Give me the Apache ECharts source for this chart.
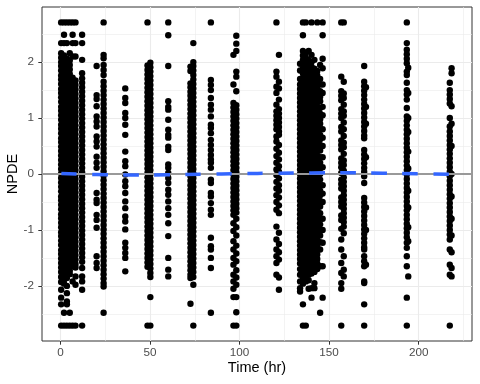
<!DOCTYPE html>
<html>
<head>
<meta charset="utf-8">
<script src="https://cdn.jsdelivr.net/npm/echarts@6/dist/echarts.min.js"></script>
<style>
  html, body { margin: 0; padding: 0; background: #fff; }
  #chart { width: 480px; height: 384px; }
</style>
</head>
<body>
<div id="chart"></div>
<script>
// NPDE per sampling time, one array per visible column of points (time in hr)
const y_t0_4 = [2.71, 2.34, 2.16, 2.08, 2.0, 1.93, 1.85, 1.76, 1.69, 1.61, 1.52, 1.45, 1.37, 1.29, 1.2, 1.13, 1.05, 0.97, 0.88, 0.81, 0.73, 0.64, 0.57, 0.49, 0.41, 0.33, 0.25, 0.17, 0.09, 0.01, -0.07, -0.15, -0.23, -0.31, -0.4, -0.47, -0.55, -0.63, -0.72, -0.79, -0.87, -0.95, -1.04, -1.11, -1.19, -1.27, -1.36, -1.43, -1.51, -1.59, -1.67, -1.75, -1.84, -1.93, -2.07, -2.21, -2.33, -2.71];
const y_t2_0 = [2.71, 2.49, 2.34, 2.12, 2.04, 1.97, 1.88, 1.81, 1.72, 1.65, 1.56, 1.49, 1.41, 1.32, 1.25, 1.16, 1.09, 1.01, 0.92, 0.85, 0.76, 0.69, 0.6, 0.53, 0.44, 0.37, 0.28, 0.21, 0.12, 0.05, -0.03, -0.11, -0.19, -0.27, -0.35, -0.43, -0.51, -0.59, -0.68, -0.75, -0.83, -0.91, -0.99, -1.07, -1.15, -1.23, -1.31, -1.39, -1.48, -1.55, -1.63, -1.71, -1.8, -1.89, -1.96, -2.48, -2.71];
const y_t3_6 = [2.71, 2.34, 2.06, 1.98, 1.9, 1.83, 1.74, 1.67, 1.58, 1.51, 1.42, 1.35, 1.27, 1.18, 1.11, 1.02, 0.95, 0.86, 0.79, 0.71, 0.62, 0.55, 0.46, 0.39, 0.3, 0.23, 0.14, 0.07, -0.01, -0.09, -0.17, -0.25, -0.33, -0.41, -0.49, -0.57, -0.65, -0.73, -0.81, -0.89, -0.97, -1.05, -1.13, -1.21, -1.29, -1.37, -1.45, -1.53, -1.61, -1.69, -1.77, -1.86, -2.0, -2.13, -2.28, -2.33, -2.71];
const y_t5_2 = [2.71, 2.16, 2.03, 1.95, 1.87, 1.79, 1.71, 1.63, 1.55, 1.47, 1.39, 1.31, 1.23, 1.15, 1.07, 0.99, 0.91, 0.83, 0.75, 0.67, 0.59, 0.51, 0.43, 0.35, 0.27, 0.19, 0.11, 0.03, -0.05, -0.13, -0.21, -0.29, -0.37, -0.45, -0.53, -0.61, -0.69, -0.77, -0.85, -0.93, -1.01, -1.09, -1.17, -1.25, -1.33, -1.41, -1.49, -1.57, -1.65, -1.73, -1.79, -2.48, -2.71];
const y_t6_8 = [2.71, 2.49, 2.34, 2.1, 1.72, 1.64, 1.57, 1.48, 1.41, 1.32, 1.25, 1.16, 1.09, 1.0, 0.93, 0.84, 0.77, 0.68, 0.61, 0.52, 0.45, 0.36, 0.29, 0.2, 0.13, 0.04, -0.04, -0.12, -0.2, -0.28, -0.36, -0.44, -0.52, -0.6, -0.68, -0.76, -0.84, -0.92, -1.0, -1.08, -1.16, -1.24, -1.32, -1.4, -1.48, -1.57, -1.65, -1.92, -2.71];
const y_t8_4 = [2.71, 2.34, 2.1, 1.67, 1.59, 1.51, 1.43, 1.35, 1.27, 1.19, 1.11, 1.03, 0.95, 0.87, 0.79, 0.71, 0.63, 0.55, 0.47, 0.39, 0.31, 0.23, 0.15, 0.07, -0.01, -0.09, -0.17, -0.25, -0.33, -0.41, -0.49, -0.57, -0.65, -0.73, -0.81, -0.89, -0.97, -1.05, -1.13, -1.21, -1.29, -1.37, -1.45, -1.53, -1.61, -1.67, -1.83, -1.98, -2.71];
const y_t12 = [2.49, 2.34, 2.04, 1.8, 1.71, 1.63, 1.55, 1.47, 1.39, 1.31, 1.23, 1.15, 1.07, 0.99, 0.91, 0.83, 0.75, 0.67, 0.59, 0.51, 0.43, 0.35, 0.27, 0.19, 0.11, 0.03, -0.05, -0.13, -0.21, -0.29, -0.37, -0.45, -0.53, -0.61, -0.69, -0.77, -0.85, -0.93, -1.01, -1.09, -1.17, -1.25, -1.33, -1.41, -1.49, -1.57, -1.68, -1.83, -1.92, -2.07, -2.71];
const y_t20 = [1.93, 1.41, 1.34, 1.21, 1.03, 0.94, 0.85, 0.67, 0.58, 0.49, 0.31, 0.2, 0.11, -0.34, -0.46, -0.52, -0.73, -0.82, -0.96, -1.47, -1.59, -1.68];
const y_t24 = [2.71, 2.13, 2.07, 1.95, 1.86, 1.77, 1.65, 1.57, 1.49, 1.41, 1.33, 1.25, 1.17, 1.09, 1.01, 0.93, 0.85, 0.77, 0.69, 0.61, 0.53, 0.45, 0.37, 0.29, 0.21, 0.13, 0.05, -0.03, -0.11, -0.19, -0.27, -0.35, -0.43, -0.51, -0.59, -0.67, -0.75, -0.83, -0.91, -0.99, -1.07, -1.15, -1.23, -1.31, -1.39, -1.47, -1.55, -1.63, -1.71, -1.79, -1.87, -1.95, -2.01, -2.48];
const y_t36 = [1.53, 1.36, 1.27, 1.09, 1.0, 0.88, 0.7, 0.4, 0.23, 0.14, -0.01, -0.13, -0.22, -0.34, -0.49, -0.61, -0.76, -0.85, -0.99, -1.23, -1.32, -1.41, -1.5, -1.74];
const y_t48_6 = [2.71, 1.94, 1.86, 1.78, 1.7, 1.62, 1.54, 1.46, 1.38, 1.3, 1.22, 1.14, 1.06, 0.98, 0.9, 0.82, 0.74, 0.66, 0.58, 0.5, 0.42, 0.34, 0.26, 0.18, 0.1, 0.02, -0.06, -0.14, -0.22, -0.3, -0.38, -0.46, -0.54, -0.62, -0.7, -0.78, -0.86, -0.94, -1.02, -1.1, -1.18, -1.26, -1.34, -1.42, -1.5, -1.58, -1.66, -2.71];
const y_t50_2 = [1.99, 1.91, 1.83, 1.75, 1.67, 1.59, 1.51, 1.43, 1.35, 1.27, 1.19, 1.11, 1.03, 0.95, 0.87, 0.79, 0.71, 0.63, 0.55, 0.47, 0.39, 0.31, 0.23, 0.15, 0.07, -0.01, -0.09, -0.17, -0.25, -0.33, -0.41, -0.49, -0.57, -0.65, -0.73, -0.81, -0.89, -0.97, -1.05, -1.13, -1.21, -1.29, -1.37, -1.45, -1.53, -1.61, -1.69, -1.77, -1.84, -2.2, -2.71];
const y_t60 = [2.71, 2.48, 1.93, 1.3, 1.2, 1.15, 0.97, 0.79, 0.7, 0.65, 0.49, 0.43, 0.17, 0.11, 0.02, -0.07, -0.16, -0.28, -0.37, -0.49, -0.61, -0.73, -0.88, -1.11, -1.5, -1.71, -1.83];
const y_t72_6 = [1.92, 1.84, 1.62, 1.55, 1.47, 1.4, 1.32, 1.24, 1.16, 1.08, 1.0, 0.92, 0.84, 0.76, 0.68, 0.6, 0.52, 0.44, 0.36, 0.28, 0.2, 0.12, 0.04, -0.04, -0.12, -0.2, -0.28, -0.36, -0.44, -0.52, -0.6, -0.68, -0.76, -0.84, -0.92, -1.0, -1.08, -1.16, -1.24, -1.32, -1.4, -1.48, -1.56, -1.64, -1.72, -1.8, -1.86, -2.32];
const y_t74_2 = [2.34, 2.0, 1.93, 1.85, 1.77, 1.69, 1.61, 1.53, 1.45, 1.37, 1.29, 1.21, 1.13, 1.05, 0.97, 0.89, 0.81, 0.73, 0.65, 0.57, 0.49, 0.41, 0.33, 0.25, 0.17, 0.09, 0.01, -0.07, -0.15, -0.23, -0.31, -0.39, -0.47, -0.55, -0.63, -0.71, -0.79, -0.87, -0.95, -1.03, -1.11, -1.19, -1.27, -1.35, -1.43, -1.51, -1.59, -1.67, -1.75, -1.84, -1.98, -2.71];
const y_t84 = [2.71, 1.68, 1.59, 1.5, 1.36, 1.24, 1.15, 1.03, 0.88, 0.82, 0.73, 0.61, 0.52, 0.43, 0.34, 0.26, 0.2, 0.11, -0.1, -0.16, -0.34, -0.4, -0.52, -0.64, -0.73, -1.14, -1.29, -1.35, -1.5, -1.68, -2.48];
const y_t96_6 = [2.13, 1.6, 1.27, 1.19, 1.11, 1.03, 0.95, 0.87, 0.79, 0.71, 0.63, 0.55, 0.47, 0.39, 0.31, 0.23, 0.15, 0.07, -0.01, -0.09, -0.17, -0.25, -0.33, -0.41, -0.49, -0.57, -0.65, -0.73, -0.88, -1.02, -1.2, -1.35, -1.5, -1.62, -1.8, -1.92, -2.05, -2.2, -2.71];
const y_t98_2 = [2.47, 2.33, 2.2, 1.83, 1.74, 1.48, 1.23, 1.15, 1.07, 0.99, 0.91, 0.83, 0.75, 0.67, 0.59, 0.51, 0.43, 0.35, 0.27, 0.19, 0.11, 0.03, -0.05, -0.13, -0.21, -0.29, -0.37, -0.45, -0.53, -0.61, -0.69, -0.8, -0.95, -1.1, -1.28, -1.42, -1.56, -1.72, -1.85, -1.98, -2.2, -2.47, -2.71];
const y_t120_6 = [2.71, 1.83, 1.74, 1.56, 1.45, 1.24, 1.12, 1.04, 0.96, 0.88, 0.8, 0.67, 0.58, 0.45, 0.32, 0.2, 0.08, -0.02, -0.14, -0.26, -0.38, -0.5, -0.64, -0.94, -1.17, -1.35, -1.47, -1.59, -1.8];
const y_t122 = [2.13, 1.65, 1.53, 1.33, 1.16, 1.08, 1.0, 0.92, 0.84, 0.76, 0.7, 0.52, 0.38, 0.26, 0.14, 0.04, -0.08, -0.2, -0.3, -0.42, -0.56, -0.7, -1.05, -1.25, -1.4, -1.53, -1.85, -2.07];
const y_t133_8 = [1.97, 1.85, 1.7, 1.6, 1.52, 1.44, 1.36, 1.28, 1.2, 1.12, 1.04, 0.96, 0.88, 0.8, 0.72, 0.64, 0.56, 0.48, 0.4, 0.32, 0.24, 0.16, 0.08, 0.0, -0.08, -0.16, -0.24, -0.32, -0.4, -0.48, -0.56, -0.64, -0.72, -0.8, -0.88, -0.96, -1.04, -1.12, -1.2, -1.28, -1.36, -1.44, -1.52, -1.6, -1.7, -1.8, -1.92, -2.04, -2.1];
const y_t135_4 = [2.71, 2.48, 2.2, 2.12, 2.04, 1.96, 1.88, 1.8, 1.72, 1.64, 1.56, 1.48, 1.4, 1.32, 1.24, 1.16, 1.08, 1.0, 0.92, 0.84, 0.76, 0.68, 0.6, 0.52, 0.44, 0.36, 0.28, 0.2, 0.12, 0.04, -0.04, -0.12, -0.2, -0.28, -0.36, -0.44, -0.52, -0.6, -0.68, -0.76, -0.84, -0.92, -1.0, -1.08, -1.16, -1.24, -1.32, -1.4, -1.48, -1.56, -1.64, -1.72, -1.8, -1.88, -1.96, -2.33, -2.71];
const y_t137 = [2.71, 2.16, 2.08, 2.0, 1.92, 1.84, 1.76, 1.68, 1.6, 1.52, 1.44, 1.36, 1.28, 1.2, 1.12, 1.04, 0.96, 0.88, 0.8, 0.72, 0.64, 0.56, 0.48, 0.4, 0.32, 0.24, 0.16, 0.08, 0.0, -0.08, -0.16, -0.24, -0.32, -0.4, -0.48, -0.56, -0.64, -0.72, -0.8, -0.88, -0.96, -1.04, -1.12, -1.2, -1.28, -1.36, -1.44, -1.52, -1.6, -1.68, -1.76, -1.84, -1.92, -2.71];
const y_t138_6 = [2.2, 2.04, 1.96, 1.88, 1.8, 1.72, 1.64, 1.56, 1.48, 1.4, 1.32, 1.24, 1.16, 1.08, 1.0, 0.92, 0.84, 0.76, 0.68, 0.6, 0.52, 0.44, 0.36, 0.28, 0.2, 0.12, 0.04, -0.04, -0.12, -0.2, -0.28, -0.36, -0.44, -0.52, -0.6, -0.68, -0.76, -0.84, -0.92, -1.0, -1.08, -1.16, -1.24, -1.32, -1.4, -1.48, -1.56, -1.64, -1.72, -1.8, -1.9, -2.05];
const y_t140_2 = [2.71, 2.13, 2.0, 1.92, 1.84, 1.76, 1.68, 1.6, 1.52, 1.44, 1.36, 1.28, 1.2, 1.12, 1.04, 0.96, 0.88, 0.8, 0.72, 0.64, 0.56, 0.48, 0.4, 0.32, 0.24, 0.16, 0.08, 0.0, -0.08, -0.16, -0.24, -0.32, -0.4, -0.48, -0.56, -0.64, -0.72, -0.8, -0.88, -0.96, -1.04, -1.12, -1.2, -1.28, -1.36, -1.44, -1.52, -1.6, -1.68, -1.78, -2.04, -2.21];
const y_t141_8 = [2.04, 1.88, 1.8, 1.72, 1.64, 1.56, 1.48, 1.4, 1.32, 1.24, 1.16, 1.08, 1.0, 0.92, 0.84, 0.76, 0.68, 0.6, 0.52, 0.44, 0.36, 0.28, 0.2, 0.12, 0.04, -0.04, -0.12, -0.2, -0.28, -0.36, -0.44, -0.52, -0.6, -0.68, -0.76, -0.84, -0.92, -1.0, -1.08, -1.16, -1.24, -1.32, -1.4, -1.48, -1.56, -1.64, -1.75, -1.95, -2.04];
const y_t143_4 = [2.71, 1.84, 1.76, 1.68, 1.6, 1.52, 1.44, 1.36, 1.28, 1.2, 1.12, 1.04, 0.96, 0.88, 0.8, 0.72, 0.64, 0.56, 0.48, 0.4, 0.32, 0.24, 0.16, 0.08, 0.0, -0.08, -0.16, -0.24, -0.32, -0.4, -0.48, -0.56, -0.64, -0.72, -0.8, -0.88, -0.96, -1.04, -1.12, -1.2, -1.28, -1.36, -1.44, -1.52, -1.6, -1.7];
const y_t145 = [1.95, 1.7, 1.6, 1.48, 1.38, 1.3, 1.18, 1.08, 0.98, 0.9, 0.8, 0.7, 0.62, 0.52, 0.42, 0.3, 0.2, 0.1, 0.0, -0.1, -0.2, -0.3, -0.38, -0.48, -0.58, -0.7, -0.8, -0.9, -1.0, -1.1, -1.22, -1.35, -1.65, -2.48];
const y_t146_4 = [2.71, 2.48, 2.06, 1.89, 1.6, 1.45, 1.2, 1.05, 0.8, 0.65, 0.5, 0.3, 0.12, -0.2, -0.35, -0.5, -0.8, -1.0, -1.23, -1.65, -2.21];
const y_t156_8 = [2.71, 1.74, 1.48, 1.4, 1.32, 1.16, 1.08, 1.0, 0.84, 0.76, 0.6, 0.52, 0.44, 0.28, 0.2, 0.12, 0.02, -0.1, -0.18, -0.26, -0.42, -0.5, -0.58, -0.74, -0.82, -0.98, -1.17, -1.35, -1.59, -1.77, -1.95, -2.05, -2.71];
const y_t158_2 = [2.71, 1.65, 1.44, 1.36, 1.24, 1.12, 1.04, 0.92, 0.8, 0.68, 0.56, 0.48, 0.36, 0.24, 0.16, 0.06, -0.06, -0.14, -0.22, -0.3, -0.38, -0.46, -0.54, -0.62, -0.7, -0.78, -0.86, -0.94, -1.06, -1.47, -1.71, -1.83];
const y_t169_6 = [1.93, 1.65, 1.57, 1.49, 1.41, 1.33, 1.25, 1.17, 1.09, 1.01, 0.93, 0.85, 0.77, 0.69, 0.64, 0.43, 0.35, 0.27, 0.19, 0.11, 0.04, -0.04, -0.16, -0.43, -0.51, -0.59, -0.67, -0.75, -0.83, -0.91, -0.99, -1.07, -1.15, -1.23, -1.31, -1.35, -1.47, -1.56, -1.65, -1.92, -1.95, -2.33, -2.71];
const y_t170_6 = [1.55, 1.2, 0.9, 0.3, -0.6, -1.0, -1.62];
const y_t193_4 = [2.71, 2.34, 2.22, 2.14, 2.06, 1.98, 1.83, 1.77, 1.63, 1.5, 1.42, 1.33, 1.18, 1.03, 0.95, 0.87, 0.79, 0.71, 0.63, 0.55, 0.47, 0.39, 0.31, 0.23, 0.15, 0.07, -0.01, -0.09, -0.17, -0.25, -0.33, -0.41, -0.49, -0.57, -0.65, -0.73, -0.81, -0.89, -0.97, -1.05, -1.13, -1.23, -1.32, -1.47, -1.65, -2.21, -2.71];
const y_t194_2 = [1.9, 1.45, 1.0, 0.75, 0.4, 0.1, -0.3, -0.6, -0.95, -1.2, -1.83];
const y_t217_4 = [1.63, 1.5, 1.42, 1.34, 1.26, 1.0, 0.85, 0.76, 0.68, 0.6, 0.52, 0.44, 0.36, 0.28, 0.2, 0.12, 0.04, -0.04, -0.12, -0.2, -0.28, -0.36, -0.44, -0.52, -0.6, -0.68, -0.76, -0.84, -0.92, -1.0, -1.08, -1.17, -1.35, -1.62, -1.8, -2.71];
const y_t218_4 = [1.89, 1.8, 1.21, 0.9, 0.5, 0.0, -0.4, -0.8, -1.1, -1.4, -1.68, -1.83];

// time of each column
const columns = [
  [0.4, y_t0_4], [2.0, y_t2_0], [3.6, y_t3_6], [5.2, y_t5_2], [6.8, y_t6_8], [8.4, y_t8_4],
  [12.1, y_t12], [20.2, y_t20], [24.1, y_t24], [36.2, y_t36], [48.6, y_t48_6], [50.2, y_t50_2],
  [60.2, y_t60], [72.6, y_t72_6], [74.2, y_t74_2], [84.0, y_t84], [96.6, y_t96_6], [98.2, y_t98_2],
  [120.6, y_t120_6], [122.0, y_t122], [133.8, y_t133_8], [135.4, y_t135_4], [137.0, y_t137],
  [138.6, y_t138_6], [140.2, y_t140_2], [141.8, y_t141_8], [143.4, y_t143_4], [145.0, y_t145],
  [146.4, y_t146_4], [156.8, y_t156_8], [158.2, y_t158_2], [169.6, y_t169_6], [170.6, y_t170_6],
  [193.4, y_t193_4], [194.2, y_t194_2], [217.4, y_t217_4], [218.4, y_t218_4]
];

// loess trend (blue dashed)
const smoothTime = [0.5, 20, 40, 60, 80, 100, 120, 140, 160, 180, 200, 218.6];
const smoothNpde = [0.01, -0.01, -0.02, -0.012, -0.003, 0.007, 0.014, 0.02, 0.021, 0.014, 0.006, -0.005];

// axis breaks
const xTicks = [0, 50, 100, 150, 200];
const xMinor = [25, 75, 125, 175, 225];
const yTicks = [-2, -1, 0, 1, 2];
const yMinor = [-2.5, -1.5, -0.5, 0.5, 1.5, 2.5];

const points = [];
columns.forEach(([t, ys]) => ys.forEach(y => points.push([t, y])));

const chart = echarts.init(document.getElementById('chart'), null, { renderer: 'canvas' });

const gridLine = (w) => ({ color: '#ebebeb', width: w, type: 'solid' });
const gridMarks = [].concat(
  xMinor.map(v => ({ xAxis: v, lineStyle: gridLine(0.6) })),
  yMinor.map(v => ({ yAxis: v, lineStyle: gridLine(0.6) })),
  xTicks.map(v => ({ xAxis: v, lineStyle: gridLine(1.1) })),
  yTicks.map(v => ({ yAxis: v, lineStyle: gridLine(1.1) }))
);

chart.setOption({
  animation: false,
  textStyle: { fontFamily: 'Liberation Sans, Arial, sans-serif' },
  grid: {
    left: 42, right: 8, top: 7, bottom: 43,
    outerBoundsMode: 'none', containLabel: false,
    show: true, borderColor: '#333333', borderWidth: 1, backgroundColor: '#fff'
  },
  xAxis: {
    type: 'value', min: -10.3, max: 229.8,
    name: 'Time (hr)', nameLocation: 'middle', nameGap: 19, nameMoveOverlap: false,
    nameTextStyle: { fontSize: 14.5, color: '#000' },
    axisLine: { show: false, onZero: false },
    axisTick: { show: true, length: 3.7, customValues: xTicks, lineStyle: { color: '#333333', width: 1 } },
    axisLabel: { customValues: xTicks, color: '#4d4d4d', fontSize: 11.7, margin: 6 },
    splitLine: { show: false }
  },
  yAxis: {
    type: 'value', min: -2.985, max: 2.985,
    name: 'NPDE', nameLocation: 'middle', nameGap: 22, nameRotate: 90, nameMoveOverlap: false,
    nameTextStyle: { fontSize: 14.5, color: '#000' },
    axisLine: { show: false, onZero: false },
    axisTick: { show: true, length: 3.7, customValues: yTicks, lineStyle: { color: '#333333', width: 1 } },
    axisLabel: { customValues: yTicks, color: '#4d4d4d', fontSize: 11.7, margin: 8 },
    splitLine: { show: false }
  },
  series: [
    {
      // panel grid lines, kept under the points
      type: 'line', data: [], z: 1, silent: true,
      markLine: { z: 1, silent: true, symbol: 'none', label: { show: false }, data: gridMarks, animation: false }
    },
    {
      type: 'scatter', data: points, z: 2, symbol: 'circle', symbolSize: 6.4,
      itemStyle: { color: '#000', opacity: 1 }, silent: true
    },
    {
      // reference line at 0
      type: 'line', data: [], z: 3, silent: true,
      markLine: {
        z: 3, silent: true, symbol: 'none', label: { show: false }, animation: false,
        data: [{ yAxis: 0 }], lineStyle: { color: '#999999', width: 2, type: 'solid' }
      }
    },
    {
      type: 'line', z: 4, silent: true, smooth: true, showSymbol: false,
      data: smoothTime.map((t, i) => [t, smoothNpde[i]]),
      lineStyle: { color: '#3366ff', width: 3.5, type: [15.5, 15.5] }
    }
  ]
});
</script>
</body>
</html>
